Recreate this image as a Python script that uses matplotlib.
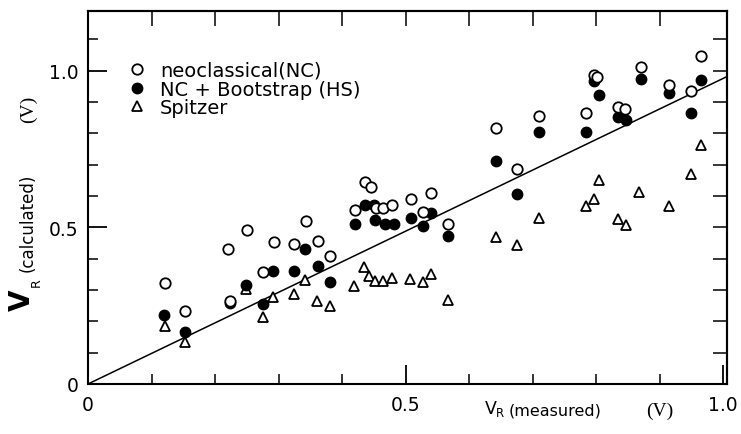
import numpy as np
import matplotlib
matplotlib.use('Agg')
import matplotlib.pyplot as plt
from matplotlib.ticker import FixedLocator, MultipleLocator

# ---------------- data ----------------
nc_x = [0.121, 0.153, 0.221, 0.223, 0.250, 0.276, 0.293, 0.325, 0.343, 0.362,
        0.381, 0.420, 0.436, 0.445, 0.454, 0.465, 0.479, 0.508, 0.527, 0.540,
        0.567, 0.643, 0.675, 0.710, 0.784, 0.797, 0.802, 0.835, 0.846, 0.870,
        0.915, 0.949, 0.965]
nc_y = [0.323, 0.232, 0.431, 0.265, 0.492, 0.357, 0.453, 0.447, 0.519, 0.455,
        0.408, 0.556, 0.646, 0.628, 0.561, 0.562, 0.570, 0.589, 0.548, 0.610,
        0.509, 0.817, 0.687, 0.854, 0.865, 0.985, 0.978, 0.884, 0.877, 1.010,
        0.953, 0.934, 1.047]

hs_x = [0.120, 0.153, 0.223, 0.248, 0.276, 0.292, 0.325, 0.342, 0.362, 0.381,
        0.420, 0.436, 0.450, 0.452, 0.467, 0.481, 0.508, 0.528, 0.540, 0.567,
        0.643, 0.675, 0.710, 0.784, 0.796, 0.804, 0.834, 0.847, 0.870, 0.915,
        0.949, 0.965]
hs_y = [0.219, 0.165, 0.258, 0.317, 0.256, 0.360, 0.362, 0.431, 0.375, 0.325,
        0.511, 0.570, 0.572, 0.522, 0.511, 0.509, 0.529, 0.504, 0.545, 0.471,
        0.713, 0.607, 0.804, 0.804, 0.966, 0.921, 0.852, 0.843, 0.972, 0.927,
        0.866, 0.971]

sp_x = [0.121, 0.153, 0.248, 0.276, 0.292, 0.325, 0.342, 0.360, 0.381, 0.419,
        0.434, 0.443, 0.452, 0.465, 0.479, 0.507, 0.528, 0.540, 0.566, 0.643,
        0.675, 0.710, 0.784, 0.797, 0.805, 0.835, 0.847, 0.868, 0.914, 0.950,
        0.965]
sp_y = [0.186, 0.133, 0.303, 0.215, 0.279, 0.288, 0.332, 0.264, 0.250, 0.314,
        0.373, 0.346, 0.330, 0.330, 0.337, 0.335, 0.326, 0.351, 0.269, 0.468,
        0.445, 0.530, 0.567, 0.589, 0.650, 0.527, 0.506, 0.612, 0.567, 0.671,
        0.761]

fit_slope = 0.975

series_labels = ['neoclassical(NC)', 'NC + Bootstrap (HS)', 'Spitzer']
x_ticks = [0, 0.5, 1.0]
x_tick_labels = ['0', '0.5', '1.0']
y_ticks = [0, 0.5, 1.0]
y_tick_labels = ['0', '0.5', '1.0']

# ---------------- figure ----------------
W, H = 741, 435
fig = plt.figure(figsize=(W / 100, H / 100), dpi=100)
ax = fig.add_axes([88 / W, 1 - 385 / H, (727 - 88) / W, (385 - 12) / H])
ax.set_xlim(0, 1.006)
ax.set_ylim(0, 1.19)

xl = np.array(ax.get_xlim())
ax.plot(xl, fit_slope * xl, color='black', lw=1.1, zorder=2)

h_sp, = ax.plot(sp_x, sp_y, linestyle='none', marker='^', ms=6.5, mfc='white',
                mec='black', mew=1.3, zorder=3)
h_hs, = ax.plot(hs_x, hs_y, linestyle='none', marker='o', ms=7.5, mfc='black',
                mec='black', mew=1.0, zorder=4)
h_nc, = ax.plot(nc_x, nc_y, linestyle='none', marker='o', ms=7.5, mfc='white',
                mec='black', mew=1.3, zorder=5)

leg = ax.legend([h_nc, h_hs, h_sp], series_labels, loc='upper left',
                bbox_to_anchor=(0.061, 0.866), frameon=False, borderpad=0,
                borderaxespad=0, handlelength=1.0, handletextpad=0.7,
                labelspacing=-0.02, fontsize=14)

# ticks
ax.xaxis.set_major_locator(FixedLocator(x_ticks))
ax.set_xticklabels(x_tick_labels)
ax.yaxis.set_major_locator(FixedLocator(y_ticks))
ax.set_yticklabels(y_tick_labels)
ax.xaxis.set_minor_locator(MultipleLocator(0.1))
ax.yaxis.set_minor_locator(MultipleLocator(0.1))
ax.tick_params(which='major', direction='in', length=14, width=1.3, labelsize=13.5)
ax.tick_params(which='minor', direction='in', length=7, width=1.1)
ax.tick_params(axis='x', pad=8)
ax.tick_params(axis='y', pad=7)
for s in ax.spines.values():
    s.set_linewidth(1.5)

secx = ax.secondary_xaxis('top')
tx = np.round(np.arange(0.1, 0.95, 0.1), 2)
secx.set_xticks(tx, labels=[''] * len(tx))
secx.tick_params(direction='in', length=11, width=1.1)
secx.spines['top'].set_linewidth(1.5)

secy = ax.secondary_yaxis('right')
ty = np.round(np.arange(0.1, 1.15, 0.1), 2)
secy.set_yticks(ty, labels=[''] * len(ty))
secy.tick_params(direction='in', length=10, width=1.1)
secy.spines['right'].set_linewidth(1.5)

# axis labels built from pieces
def ft(x, y, s, **kw):
    fig.text(x / W, 1 - y / H, s, ha='center', va='center', **kw)

ft(22, 300, 'V', fontsize=20, fontweight='bold', rotation=90)
ft(36, 283, 'R', fontsize=9, rotation=90)
ft(28, 223, '(calculated)', fontsize=12, rotation=90)
ft(28, 109, '(V)', fontsize=14, rotation=90, family='Liberation Serif')

ft(491, 409, 'V', fontsize=12.5)
ft(500, 414, 'R', fontsize=8.5)
ft(555, 411, '(measured)', fontsize=11.5)
ft(660, 411, '(V)', fontsize=14, family='Liberation Serif')

fig.savefig('out.png', dpi=100)
